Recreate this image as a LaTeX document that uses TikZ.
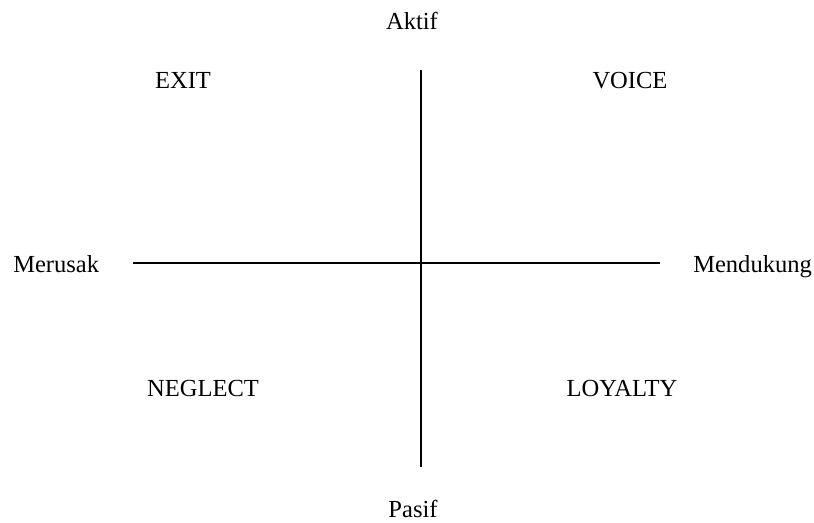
\documentclass[tikz,border=0pt]{standalone}
\usepackage{fontspec}
\setmainfont{Liberation Serif}
\usetikzlibrary{positioning}

\begin{document}
\begin{tikzpicture}[x=0.75pt, y=-0.75pt,
  lbl/.style={anchor=base, inner sep=0pt, font=\fontsize{18.4}{22}\selectfont},
  axis/.style={line width=1pt, black}]

  \useasboundingbox (0,0) rectangle (814,523);

  % axis end points
  \coordinate (top) at (421,70);
  \coordinate (bottom) at (421,467);
  \coordinate (left) at (133,263);
  \coordinate (right) at (660,263);

  \draw[axis] (top) -- (bottom);
  \draw[axis] (left) -- (right);

  % axis labels
  \node[lbl] (aktif) at (412,30) {Aktif};
  \node[lbl] (pasif) at (413,518) {Pasif};
  \node[lbl, anchor=base west] (merusak) at (13,273) {Merusak};
  \node[lbl, anchor=base west] (mendukung) at (693,273) {Mendukung};

  % quadrant labels
  \node[lbl] (exit) at (183,89) {EXIT};
  \node[lbl] (voice) at (630,89) {VOICE};
  \node[lbl] (neglect) at (203,397) {NEGLECT};
  \node[lbl] (loyalty) at (622,397) {LOYALTY};

\end{tikzpicture}
\end{document}
